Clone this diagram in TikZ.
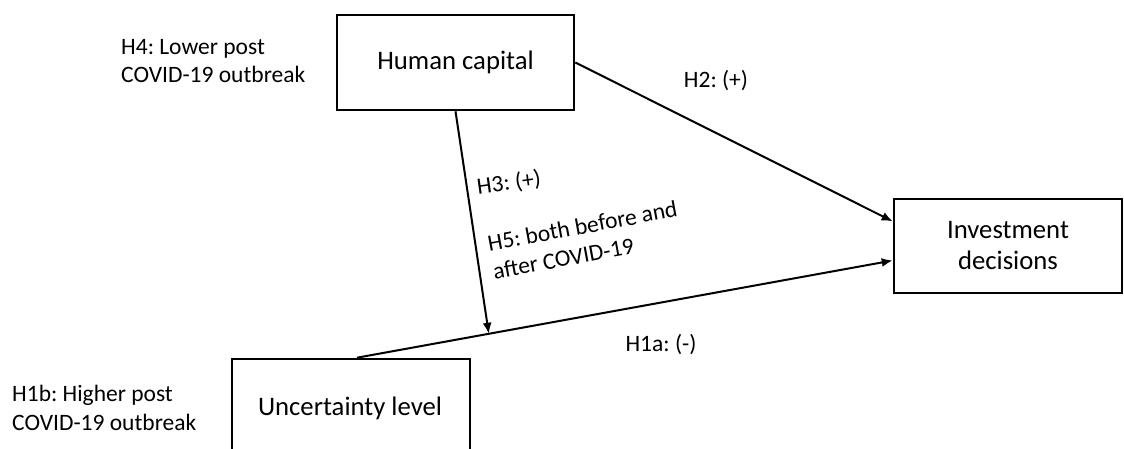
\documentclass[tikz,border=0pt]{standalone}
\usepackage{fontspec}
\setmainfont{Carlito}
\usetikzlibrary{calc,arrows.meta}
\frenchspacing
\begin{document}
\begin{tikzpicture}[x=1pt,y=-1pt,
  box/.style={draw,line width=2.6pt,rectangle,inner sep=0pt,align=center,
    font=\fontsize{26.7}{31}\selectfont},
  lbl/.style={inner sep=0pt,align=left,font=\frenchspacing\fontsize{23.5}{28.5}\selectfont},
  conn/.style={line width=2pt,-{Latex[length=11pt,width=9pt]}},
  plain/.style={line width=2pt}]
\useasboundingbox (0,0) rectangle (1124,449);
\node[box,minimum width=237pt,minimum height=95pt] (hc) at (455.5,62.5) {Human capital};
\node[box,minimum width=238pt,minimum height=100pt] (unc) at (351,409) {};
\node[font=\fontsize{26.7}{31}\selectfont,inner sep=0pt] (unct) at (350,408) {Uncertainty level};
\node[box,minimum width=228pt,minimum height=94pt] (inv) at (1008,246) {Investment\\decisions};
\coordinate (s) at ($(unc.north west)!0.525!(unc.north east)$);
\coordinate (e1) at ($(inv.north west)!0.245!(inv.south west)$);
\coordinate (e2) at ($(inv.north west)!0.65!(inv.south west)$);
\coordinate (m) at ($(s)!0.246!(e2)$);
\draw[conn] (hc.east) -- (e1);
\draw[conn] (s) -- (e2);
\draw[conn] (hc.south) -- (m);
\node[lbl] (h2) at (716,81) {H2: (+)};
\node[lbl,rotate=8] (h3) at (509,183) {H3: (+)};
\node[lbl,rotate=10.5] (h5) at (585,240) {H5: both before and\\after COVID-19};
\node[lbl] (h1a) at (661,345) {H1a: (-)};
\node[lbl,anchor=west] (h4) at (121,61) {H4: Lower post\\COVID-19 outbreak};
\node[lbl,anchor=west] (h1b) at (12,408) {H1b: Higher post\\COVID-19 outbreak};
\end{tikzpicture}
\end{document}
